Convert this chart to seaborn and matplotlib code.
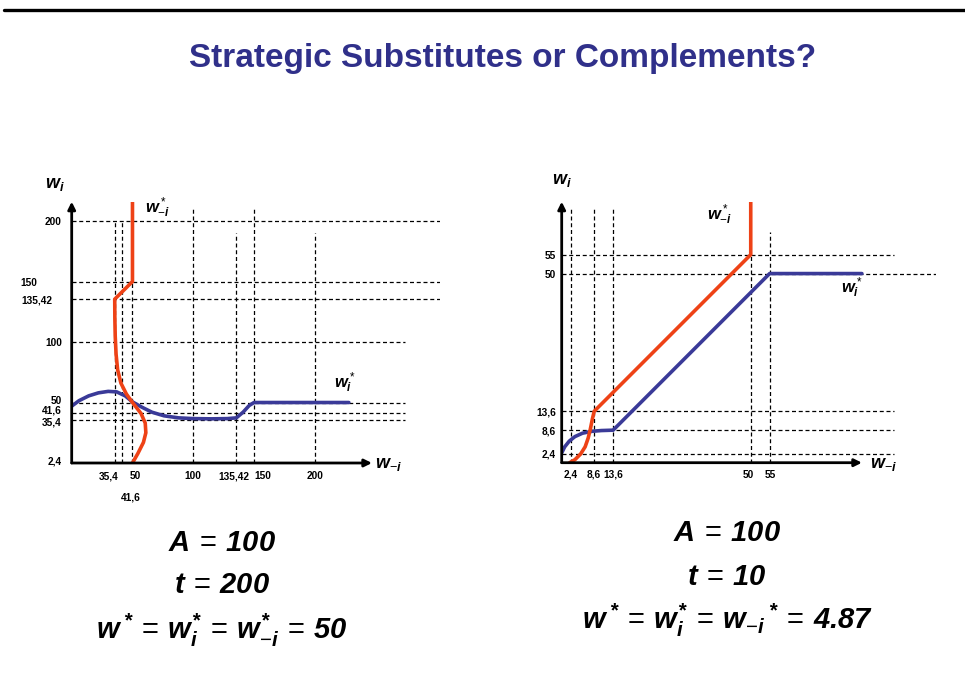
import matplotlib
matplotlib.use("Agg")
import matplotlib.pyplot as plt
import seaborn as sns
from matplotlib.lines import Line2D
from matplotlib.transforms import ScaledTranslation

# ---- left panel: A = 100, t = 200 ----
# best response of firm -i (red), drawn as x = f(y)
left_red_y = [0, 8, 17, 25, 33, 41, 50, 57, 66, 77, 90, 105, 120, 135.42, 150, 216]
left_red_x = [50, 54.5, 59, 61, 60.5, 57, 50, 45, 40.5, 37.8, 36.5, 35.8, 35.5, 35.4, 50, 50]
# best response of firm i (blue)
left_blue_x = [0, 6, 14, 22, 30, 37, 44, 50, 58, 66, 76, 88, 100, 115, 128, 135.42, 141, 146, 150, 228]
left_blue_y = [47, 51.5, 55.5, 58, 59.2, 58.8, 55.5, 50.5, 46, 42, 39, 37.3, 36.7, 36.5, 36.7, 37.3, 42, 47.5, 50, 50]

left_xticks = [35.4, 41.6, 50, 100, 135.42, 150, 200]
left_xlabels = ["35,4", "41,6", "50", "100", "135,42", "150", "200"]
left_yticks = [200, 150, 135.42, 100, 50, 41.6, 35.4, 2.4]
left_ylabels = ["200", "150", "135,42", "100", "50", "41,6", "35,4", "2,4"]
left_hgrid = [200, 150, 135.42, 100, 50, 41.6, 35.4]
left_hgrid_end = [303, 303, 303, 274, 274, 274, 274]
left_vgrid = [35.4, 41.6, 50, 100, 135.42, 150, 200]
left_vgrid_top = [200, 200, 200, 212, 190, 212, 190]

# ---- right panel: A = 100, t = 10 ----
right_red_x = [2.1, 3.5, 5, 6.2, 7, 7.6, 8.1, 8.6, 50, 50]
right_red_y = [0, 0.8, 2.3, 4.2, 6.5, 9, 11.5, 13.6, 55, 69]
right_blue_x = [0, 0.8, 2, 3.5, 5.5, 8, 10.5, 13.6, 55, 79.4]
right_blue_y = [2.6, 4.2, 5.7, 6.9, 7.8, 8.3, 8.5, 8.6, 50, 50]

right_ticks = [2.4, 8.6, 13.6, 50, 55]
right_labels = ["2,4", "8,6", "13,6", "50", "55"]
right_hgrid = [55, 50, 13.6, 8.6, 2.4]
right_hgrid_end = [88, 99, 88, 88, 88]
right_vgrid = [2.4, 8.6, 13.6, 50, 55]
right_vgrid_top = [67, 67, 67, 55, 61]

RED = "#ee4216"
BLUE = "#3a3a98"
TITLE = "#30308a"

sns.set_theme(style="white")
plt.rcParams["font.family"] = ["Liberation Sans", "DejaVu Sans"]
plt.rcParams["text.color"] = "black"
plt.rcParams["xtick.color"] = "black"
plt.rcParams["ytick.color"] = "black"
plt.rcParams["mathtext.fontset"] = "custom"
plt.rcParams["mathtext.rm"] = "Liberation Sans"
plt.rcParams["mathtext.it"] = "Liberation Sans:italic:bold"
plt.rcParams["mathtext.bf"] = "Liberation Sans:bold"
plt.rcParams["mathtext.bfit"] = "Liberation Sans:italic:bold"

W, H = 965, 689
fig = plt.figure(figsize=(W / 100, H / 100), dpi=100)
fig.patch.set_facecolor("white")


def px_axes(x0, x1, y0, y1):
    # pixel box -> figure fraction
    return fig.add_axes([x0 / W, 1 - y1 / H, (x1 - x0) / W, (y1 - y0) / H])


def nudge(labels, moves):
    # move single tick labels by (dx, dy) pixels, dy positive = up
    for lbl in labels:
        if lbl.get_text() in moves:
            dx, dy = moves[lbl.get_text()]
            lbl.set_transform(lbl.get_transform() +
                              ScaledTranslation(dx / 100, dy / 100, fig.dpi_scale_trans))


def setup(ax, xlim, ylim, xtip, ytip):
    ax.set_xlim(*xlim)
    ax.set_ylim(*ylim)
    for s in ax.spines.values():
        s.set_visible(False)
    ax.set_facecolor("none")
    arrow = dict(arrowstyle="-|>", lw=2, color="black", mutation_scale=11,
                 shrinkA=0, shrinkB=0)
    ax.annotate("", xy=(xtip, 0), xytext=(0, 0), arrowprops=arrow,
                annotation_clip=False, zorder=5)
    ax.annotate("", xy=(0, ytip), xytext=(0, 0), arrowprops=arrow,
                annotation_clip=False, zorder=5)
    ax.tick_params(length=0)


dash = dict(color="black", lw=0.9, linestyle=(0, (3.2, 2.2)), zorder=1)
tickfont = dict(fontsize=7.3, fontweight="bold")

# ---------- left ----------
axL = px_axes(71.7, 440, 201.7, 463)
setup(axL, (0, 303), (0, 216), 247, 216)
axL.hlines(left_hgrid, 0, left_hgrid_end, **dash)
axL.vlines(left_vgrid, 0, left_vgrid_top, **dash)
sns.lineplot(x=left_blue_x, y=left_blue_y, sort=False, estimator=None,
             color=BLUE, lw=2.6, ax=axL, zorder=3)
sns.lineplot(x=left_red_x, y=left_red_y, sort=False, estimator=None,
             color=RED, lw=2.6, ax=axL, zorder=4)
axL.set_xticks(left_xticks, left_xlabels, **tickfont)
axL.set_yticks(left_yticks, left_ylabels, **tickfont)
axL.tick_params(axis="x", pad=6)
axL.tick_params(axis="y", pad=7)
nudge(axL.get_yticklabels(), {"150": (-25, 0), "135,42": (-10, 0),
                              "50": (0, 3), "41,6": (0, 3), "35,4": (0, -1)})
nudge(axL.get_xticklabels(), {"35,4": (-6, 0), "41,6": (9, -21), "50": (3, 0),
                              "135,42": (-2, 0), "150": (9, 0)})
axL.text(-14, 230, r"$w_i$", fontsize=13, ha="center", va="center", clip_on=False)
axL.text(261, -1, r"$w_{-i}$", fontsize=13, ha="center", va="center", clip_on=False)
axL.text(60, 211, r"$w^*_{-i}$", fontsize=12, ha="left", va="center")
axL.text(216, 66, r"$w^*_i$", fontsize=12, ha="left", va="center")

# ---------- right ----------
axR = px_axes(561.7, 936, 201.7, 462.7)
setup(axR, (0, 99), (0, 69), 79.4, 69)
axR.hlines(right_hgrid, 0, right_hgrid_end, **dash)
axR.vlines(right_vgrid, 0, right_vgrid_top, **dash)
sns.lineplot(x=right_blue_x, y=right_blue_y, sort=False, estimator=None,
             color=BLUE, lw=2.6, ax=axR, zorder=3)
sns.lineplot(x=right_red_x, y=right_red_y, sort=False, estimator=None,
             color=RED, lw=2.6, ax=axR, zorder=4)
axR.set_xticks(right_ticks, right_labels, **tickfont)
axR.set_yticks(right_ticks, right_labels, **tickfont)
axR.tick_params(axis="x", pad=5)
axR.tick_params(axis="y", pad=4)
nudge(axR.get_xticklabels(), {"50": (-2, 0), "55": (1, 0)})
axR.text(0, 74.5, r"$w_i$", fontsize=13, ha="center", va="center", clip_on=False)
axR.text(85, -0.5, r"$w_{-i}$", fontsize=13, ha="center", va="center", clip_on=False)
axR.text(38.5, 65.5, r"$w^*_{-i}$", fontsize=12, ha="left", va="center")
axR.text(74, 46.3, r"$w^*_i$", fontsize=12, ha="left", va="center")

# ---------- title, rule and parameters ----------
fig.add_artist(Line2D([4 / W, 1], [1 - 10 / H, 1 - 10 / H], color="black", lw=2.4))
fig.text(503 / W, 1 - 58 / H, "Strategic Substitutes or Complements?",
         fontsize=24, fontweight="bold", color=TITLE, ha="center", va="center")

big = dict(fontsize=21, ha="center", va="center")
S = r"\mathbfit{*}"
EQ = r"\,=\,"
fig.text(222 / W, 1 - 543 / H, r"$A" + EQ + r"\mathbfit{100}$", **big)
fig.text(222 / W, 1 - 585 / H, r"$t" + EQ + r"\mathbfit{200}$", **big)
fig.text(222 / W, 1 - 630 / H,
         rf"$w\,^{{{S}}}{EQ}w^{{{S}}}_i{EQ}w^{{{S}}}_{{-i}}{EQ}\mathbfit{{50}}$", **big)
fig.text(727 / W, 1 - 533 / H, r"$A" + EQ + r"\mathbfit{100}$", **big)
fig.text(727 / W, 1 - 577 / H, r"$t" + EQ + r"\mathbfit{10}$", **big)
fig.text(727 / W, 1 - 620 / H,
         rf"$w\,^{{{S}}}{EQ}w^{{{S}}}_i{EQ}w_{{-i}}\,^{{{S}}}{EQ}\mathbfit{{4.87}}$", **big)

fig.savefig("out.png", dpi=100)
